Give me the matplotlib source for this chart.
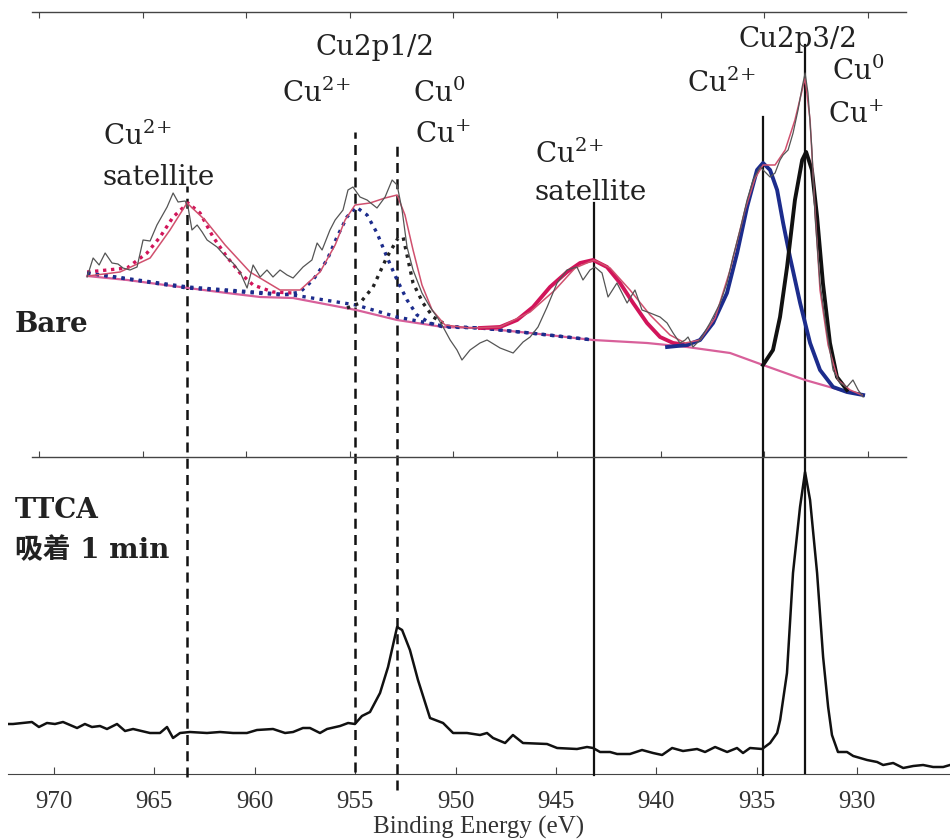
import numpy as np
import matplotlib
matplotlib.use("Agg")
import matplotlib.pyplot as plt

plt.rcParams['mathtext.fontset'] = 'dejavuserif'

# ---- Bare (top panel), binding energy (eV) / intensity (a.u.) ----
bare_raw_e = [967.68, 967.39, 967.10, 966.81, 966.48, 966.19, 965.95, 965.61, 965.27, 964.98,
              964.64, 964.31, 963.82, 963.53, 963.29, 962.95, 962.81, 962.62, 962.37, 962.13,
              961.89, 961.41, 960.93, 960.64, 960.30, 959.96, 959.67, 959.33, 959.00, 958.71,
              958.37, 958.03, 957.74, 957.26, 956.83, 956.58, 956.34, 955.96, 955.71, 955.33,
              955.09, 954.85, 954.51, 954.17, 953.69, 953.30, 952.96, 952.72, 952.48, 952.24,
              951.95, 951.52, 951.13, 950.79, 950.50, 950.16, 949.83, 949.59, 949.20, 948.72,
              948.38, 947.75, 947.12, 946.64, 946.30, 945.92, 945.48, 945.00, 944.52, 944.04,
              943.75, 943.41, 943.17, 942.83, 942.54, 942.11, 941.62, 941.24, 940.90, 940.51,
              940.03, 939.69, 939.40, 939.07, 938.82, 938.68, 938.44, 938.10, 937.62, 937.37,
              937.13, 936.80, 936.51, 936.17, 935.83, 935.54, 935.20, 934.96, 934.72, 934.48,
              934.24, 934.09, 933.85, 933.61, 933.37, 933.17, 933.03, 932.89, 932.70, 932.55,
              932.31, 931.97, 931.68, 931.34, 931.01, 930.72, 930.47, 930.23]
bare_raw_i = [180, 199, 192, 204, 194, 193, 189, 187, 190, 217,
              216, 232, 250, 264, 255, 256, 250, 227, 232, 225,
              217, 210, 199, 194, 185, 169, 192, 180, 187, 180,
              187, 182, 179, 190, 197, 214, 207, 227, 237, 247,
              267, 270, 260, 257, 249, 260, 277, 272, 247, 210,
              187, 164, 150, 140, 130, 117, 107, 97, 107, 114,
              117, 109, 104, 115, 120, 130, 150, 174, 187, 190,
              177, 187, 190, 184, 160, 174, 154, 167, 147, 144,
              140, 134, 124, 114, 117, 120, 110, 117, 134, 144,
              154, 174, 200, 227, 257, 277, 290, 285, 280, 284,
              297, 302, 307, 324, 347, 370, 384, 364, 307, 240,
              174, 124, 87, 74, 70, 77, 67, 60]

env_e = [967.64, 966.09, 964.64, 963.68, 962.86, 961.99, 961.02, 959.82, 958.37, 957.40,
         956.44, 955.71, 955.23, 954.75, 954.03, 953.30, 952.72, 952.34, 951.95, 951.52,
         951.03, 950.41, 949.20, 947.75, 946.30, 945.10, 944.13, 943.22, 942.44, 941.48,
         940.51, 939.55, 938.82, 938.10, 937.37, 936.65, 935.93, 935.44, 935.06, 934.48,
         933.99, 933.52, 933.17, 933.03, 932.79, 932.55, 932.31, 931.92, 931.44, 930.86, 930.28]
env_i = [181, 185, 199, 227, 254, 237, 212, 185, 167, 167,
         185, 212, 237, 252, 254, 259, 262, 242, 207, 172,
         147, 132, 129, 130, 145, 167, 189, 197, 189, 167,
         142, 122, 114, 117, 139, 187, 247, 279, 292, 292,
         307, 337, 367, 379, 337, 247, 167, 112, 77, 67, 62]

bg_e = [967.68, 965.75, 962.81, 960.93, 959.33, 957.74, 954.70, 952.72, 950.50, 948.72,
        946.30, 943.26, 940.66, 938.73, 936.65, 935.06, 933.03, 931.34, 930.23]
bg_i = [181, 177, 169, 164, 160, 159, 147, 137, 130, 129,
        124, 117, 114, 110, 104, 92, 77, 67, 62]

bg2_e = [967.68, 962.81, 957.74, 954.70, 952.72, 950.50, 948.72, 946.30, 943.26]
bg2_i = [184, 170, 162, 152, 140, 131, 129, 124, 117]

sat1_e = [967.68, 965.75, 964.79, 964.16, 963.53, 962.81, 962.23, 961.60, 960.93, 960.30,
          959.67, 958.71, 957.74]
sat1_i = [185, 189, 204, 220, 240, 254, 244, 220, 200, 184, 172, 165, 164]

p12_cu2_e = [967.68, 962.86, 958.22, 957.40, 956.78, 956.10, 955.62, 955.14, 954.70, 954.17,
             953.69, 953.21, 952.72, 952.24, 951.76, 951.13, 950.50, 948.72, 946.30, 943.26]
p12_cu2_i = [184, 169, 162, 165, 177, 197, 220, 240, 250, 242,
             224, 200, 177, 157, 142, 134, 130, 129, 124, 117]

p12_cu0_e = [955.14, 954.51, 953.88, 953.21, 952.67, 952.43, 951.95, 951.47, 950.98, 950.50]
p12_cu0_i = [149, 154, 170, 200, 219, 220, 174, 154, 140, 134]

sat2_e = [948.72, 947.75, 946.93, 946.16, 945.34, 944.52, 943.89, 943.26, 942.59, 941.96,
          941.33, 940.66, 940.03, 939.40, 938.73]
sat2_i = [129, 130, 137, 150, 170, 185, 194, 197, 190, 174, 154, 134, 120, 114, 112]

p32_cu2_e = [939.69, 938.73, 938.10, 937.47, 936.80, 936.31, 935.83, 935.35, 935.06, 934.72,
             934.38, 934.09, 933.76, 933.27, 932.79, 932.31, 931.68, 931.01, 930.23]
p32_cu2_i = [110, 112, 117, 134, 164, 204, 250, 287, 294, 287,
             267, 234, 200, 154, 114, 87, 70, 65, 62]

p32_cu0_e = [935.06, 934.58, 934.24, 933.90, 933.52, 933.17, 932.98, 932.70, 932.45, 932.17,
             931.83, 931.49, 931.01]
p32_cu0_i = [92, 107, 140, 190, 257, 297, 305, 287, 240, 174, 114, 80, 67]

# ---- TTCA 1 min (bottom panel) ----
ttca_e = [972.29, 972.04, 971.10, 970.75, 970.35, 969.95, 969.55, 968.85, 968.46, 968.11,
          967.71, 967.36, 966.86, 966.46, 966.06, 965.22, 964.72, 964.37, 964.07, 963.72,
          963.23, 962.38, 961.73, 961.08, 960.39, 959.89, 959.09, 958.49, 958.09, 957.60,
          957.25, 956.75, 956.40, 955.75, 955.35, 955.01, 954.66, 954.26, 953.76, 953.36,
          952.91, 952.66, 952.27, 951.87, 951.27, 950.62, 950.12, 949.43, 948.78, 948.43,
          948.13, 947.53, 947.14, 946.64, 945.44, 944.94, 943.95, 943.45, 943.15, 942.80,
          942.30, 941.95, 941.31, 940.71, 940.16, 939.71, 939.21, 938.67, 937.97, 937.57,
          937.07, 936.47, 935.98, 935.68, 935.33, 934.73, 934.33, 933.98, 933.83, 933.49,
          933.19, 932.84, 932.59, 932.34, 931.99, 931.69, 931.44, 931.25, 930.95, 930.50,
          930.19, 929.50, 929.00, 928.70, 928.20, 927.70, 927.20, 926.71, 926.21, 925.71, 925.37]
ttca_i = [50, 50, 52, 47, 51, 50, 52, 46, 50, 47,
          48, 45, 50, 43, 45, 41, 41, 47, 36, 41,
          42, 41, 42, 41, 41, 44, 45, 41, 42, 46,
          46, 41, 45, 48, 51, 50, 58, 62, 81, 107,
          147, 144, 124, 94, 56, 51, 41, 41, 39, 41,
          36, 31, 39, 31, 30, 26, 25, 27, 26, 22,
          22, 20, 20, 24, 21, 19, 26, 23, 25, 22,
          27, 22, 26, 21, 26, 25, 31, 41, 54, 101,
          201, 267, 302, 274, 201, 117, 67, 39, 22, 22,
          18, 14, 12, 9, 11, 6, 8, 9, 7, 7, 9]

# reference lines: energy, style, top / bottom (fraction of bottom axes height)
ref_e = [963.37, 955.01, 952.91, 943.10, 934.68, 932.59]
ref_style = ['--', '--', '--', '-', '-', '-']
ref_top = [1.855, 2.025, 1.994, 1.801, 2.073, 2.300]
ref_bot = [-0.009, 0.006, -0.050, -0.003, -0.003, 0.003]

ticks = [970, 965, 960, 955, 950, 945, 940, 935, 930]

W, H = 950, 839
fig = plt.figure(figsize=(W / 100, H / 100), dpi=100)

ax_bot = fig.add_axes([8 / W, 1 - 774 / H, 942 / W, 317 / H])
ax_top = fig.add_axes([32 / W, 1 - 457 / H, 874 / W, 445 / H])
for ax in (ax_top, ax_bot):
    ax.set_facecolor('none')
    ax.spines['left'].set_visible(False)
    ax.spines['right'].set_visible(False)
    ax.set_yticks([])

pink = '#d2145a'
blue = '#1c2c8c'

# top panel
ax_top.plot(bg_e, bg_i, color='#d8609a', lw=1.6, zorder=2)
ax_top.plot(bg2_e, bg2_i, color=blue, lw=2.4, ls=(0, (1, 1.6)), zorder=3)
ax_top.plot(sat1_e, sat1_i, color=pink, lw=2.4, ls=(0, (1, 1.4)), zorder=3)
ax_top.plot(p12_cu2_e, p12_cu2_i, color=blue, lw=2.4, ls=(0, (1, 1.6)), zorder=3)
ax_top.plot(p12_cu0_e, p12_cu0_i, color='#222222', lw=2.4, ls=(0, (1, 1.6)), zorder=3)
ax_top.plot(sat2_e, sat2_i, color=pink, lw=2.8, zorder=4)
ax_top.plot(p32_cu2_e, p32_cu2_i, color=blue, lw=2.8, zorder=4)
ax_top.plot(p32_cu0_e, p32_cu0_i, color='#111111', lw=2.8, zorder=4)
ax_top.plot(env_e, env_i, color='#d0506e', lw=1.1, zorder=5)
ax_top.plot(bare_raw_e, bare_raw_i, color='#555555', lw=0.9, zorder=5)
ax_top.set_xlim(970.34, 928.16)
ax_top.set_ylim(0, 445)
ax_top.set_xticks(ticks)
ax_top.tick_params(axis='x', direction='in', top=True, length=4, width=0.8,
                   labelbottom=False, colors='#444444')
for s in ('top', 'bottom'):
    ax_top.spines[s].set_color('#444444')
    ax_top.spines[s].set_linewidth(1.0)

# bottom panel
ax_bot.plot(ttca_e, ttca_i, color='#111111', lw=1.8)
ax_bot.set_xlim(972.29, 925.37)
ax_bot.set_ylim(0, 317)
ax_bot.spines['top'].set_visible(False)
ax_bot.spines['bottom'].set_color('#444444')
ax_bot.set_xticks(ticks)
ax_bot.tick_params(axis='x', direction='in', length=5, width=0.8, pad=12,
                   colors='#444444', labelcolor='#333333')
for lab in ax_bot.get_xticklabels():
    lab.set_fontfamily('Liberation Serif')
    lab.set_fontsize(18)
ax_bot.set_xlabel('Binding Energy (eV)', fontfamily='Liberation Serif', fontsize=18,
                  color='#333333', labelpad=2)

for e, st, t, b in zip(ref_e, ref_style, ref_top, ref_bot):
    if st == '--':
        ax_bot.axvline(e, b, t, color='#111111', lw=1.8, ls=(0, (4, 2.5)), clip_on=False, zorder=6)
    else:
        ax_bot.axvline(e, b, t, color='#111111', lw=1.6, clip_on=False, zorder=6)

# labels (figure pixels -> fraction, baseline aligned)
def label(x, y, s, ha='left', **kw):
    kw.setdefault('family', ['DejaVu Serif', 'Noto Sans CJK JP'])
    kw.setdefault('fontsize', 20)
    fig.text(x / W, 1 - y / H, s, ha=ha, va='baseline', color='#222222', **kw)

cu2 = r'Cu$^{2\!+}$'
label(375, 55, 'Cu2p1/2', ha='center')
label(282, 102, cu2)
label(413, 102, 'Cu$^{0}$')
label(415, 143, 'Cu$^{+}$')
label(103, 145, cu2)
label(103, 185, 'satellite')
label(535, 163, cu2)
label(535, 200, 'satellite')
label(687, 92, cu2)
label(738, 47, 'Cu2p3/2')
label(832, 80, 'Cu$^{0}$')
label(828, 123, 'Cu$^{+}$')
label(15, 332, 'Bare', fontweight='bold')
label(15, 518, 'TTCA', fontweight='bold')
label(15, 558, '吸着 1 min', fontweight='bold')

fig.savefig('out.png', dpi=100)
